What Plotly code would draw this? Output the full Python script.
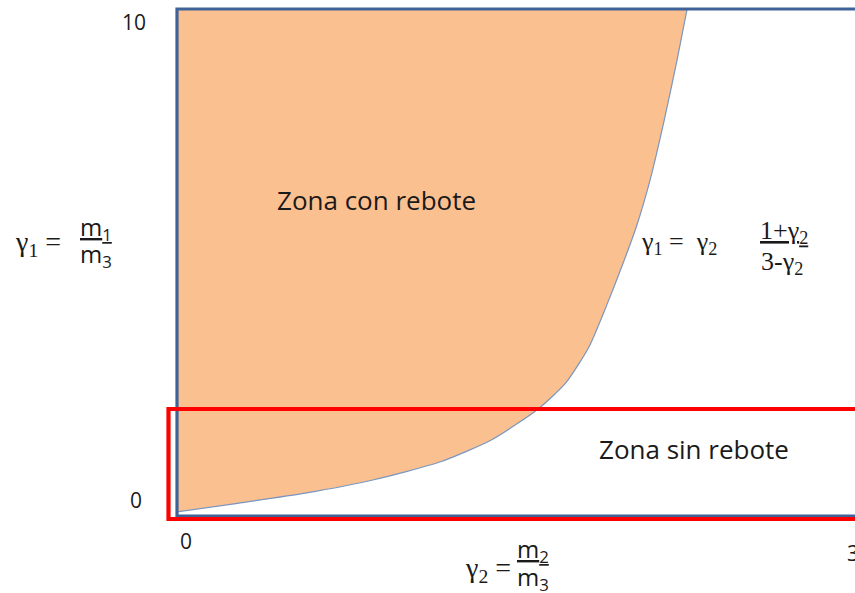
import plotly.graph_objects as go

# boundary curve gamma1 = gamma2 (1+gamma2)/(3-gamma2)
gamma2 = [0.0, 0.270, 0.571, 0.873, 1.175, 1.401, 1.604, 1.732, 1.837,
          1.913, 1.988, 2.048, 2.109, 2.169, 2.229, 2.274]
gamma1 = [0.08, 0.25, 0.45, 0.71, 1.07, 1.50, 2.09, 2.62, 3.34,
          4.13, 4.98, 5.71, 6.63, 7.75, 8.99, 10.0]

x_tick_labels = ["0", "3"]
y_tick_labels = ["0", "10"]

zone_labels = ["Zona con rebote", "Zona sin rebote"]

W, H = 855, 593
L, T, B = 177, 9, 77          # plot area margins in px
PW, PH = W - L, H - T - B


def paper(x, y):
    # pixel position in the picture -> paper coords
    return (x - L) / PW, (H - B - y) / PH


fig = go.Figure()

# orange zone = everything left of the curve
fig.add_trace(go.Scatter(
    x=gamma2, y=gamma1,
    mode="lines", fill="tozerox", fillcolor="#FAC090",
    line=dict(color="#7B96BE", width=1.2, shape="spline", smoothing=0.6),
    hoverinfo="skip", showlegend=False,
))

shapes = []
# blue frame, right side runs off the canvas
shapes.append(dict(type="rect", xref="paper", yref="paper",
                   x0=0, x1=1.05, y0=0, y1=1,
                   line=dict(color="#3F6298", width=3.2)))
# red box round the "no rebound" strip
x0, y0 = paper(168.5, 519)
x1, y1 = paper(880, 409)
shapes.append(dict(type="rect", xref="paper", yref="paper",
                   x0=x0, x1=x1, y0=y0, y1=y1,
                   line=dict(color="#FF0000", width=4.2)))

sans = "'Open Sans', sans-serif"
serif = "'Liberation Serif', 'DejaVu Serif', serif"
ink = "#1a1a1a"

annotations = []


def note(text, x, y, size=22, family=sans, anchor="center"):
    px_, py_ = paper(x, y)
    annotations.append(dict(text=text, x=px_, y=py_, xref="paper", yref="paper",
                            xanchor=anchor, yanchor="middle", showarrow=False,
                            font=dict(family=family, size=size, color=ink)))


# tick labels
note(y_tick_labels[1], 134, 22, 21)
note(y_tick_labels[0], 136, 500, 21)
note(x_tick_labels[0], 186, 541, 21)
note(x_tick_labels[1], 853, 553, 21)

# zone names
note(zone_labels[0], 376, 200, 26)
note(zone_labels[1], 694, 449, 26)

# y axis title: gamma1 = m1/m3
note("γ<sub>1</sub> =", 38, 243, 28, serif)
note("<u>m<sub>1</sub></u>", 96, 228, 24)
note("m<sub>3</sub>", 96, 255, 24)

# x axis title: gamma2 = m2/m3
note("γ<sub>2</sub> =", 488, 569, 28, serif)
note("<u>m<sub>2</sub></u>", 533, 550, 24)
note("m<sub>3</sub>", 533, 578, 24)

# curve formula
note("γ<sub>1</sub> =  γ<sub>2</sub>", 679, 243, 26, serif)
note("<u>1+γ<sub>2</sub></u>", 784, 232, 26, serif)
note("3-γ<sub>2</sub>", 782, 263, 26, serif)

fig.update_layout(
    width=W, height=H,
    margin=dict(l=L, r=0, t=T, b=B),
    paper_bgcolor="white", plot_bgcolor="white",
    xaxis=dict(range=[0, 3 * PW / 673], visible=False, fixedrange=True),
    yaxis=dict(range=[0, 10], visible=False, fixedrange=True),
    shapes=shapes, annotations=annotations,
)

fig.write_html("out.html", config={"displayModeBar": False},
               post_script="document.body.style.margin='0px';")
